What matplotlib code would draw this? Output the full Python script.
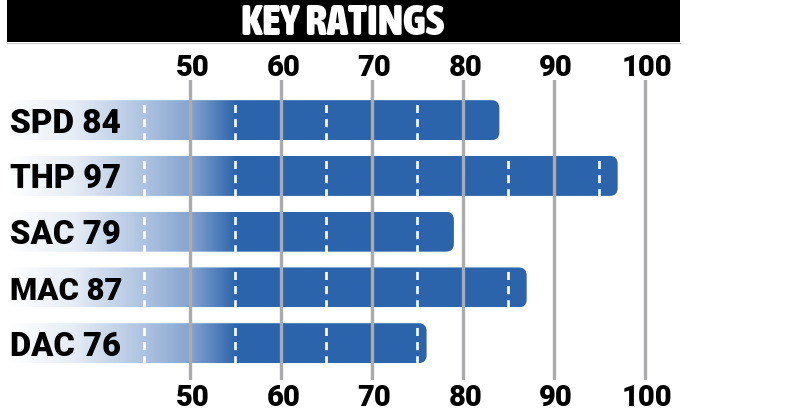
import numpy as np
import matplotlib
matplotlib.use("Agg")
import matplotlib.pyplot as plt
from matplotlib.patches import FancyBboxPatch, Rectangle
from matplotlib.lines import Line2D
from matplotlib.colors import to_rgb
from matplotlib import font_manager
import matplotlib.transforms as mtransforms

# ---- data ----
title = "KEY RATINGS"
categories = ["SPD", "THP", "SAC", "MAC", "DAC"]
ratings = [84, 97, 79, 87, 76]
tick_values = [50, 60, 70, 80, 90, 100]
dash_values = [45, 55, 65, 75, 85, 95]

plt.rcParams['lines.scale_dashes'] = False

BLUE = "#2c64ac"
GRID = "#ababad"

entries = font_manager.fontManager.ttflist
def wt(e):
    return e.weight if isinstance(e.weight, int) else 400

def pick(cands):
    for name, w in cands:
        for e in entries:
            if e.name == name and wt(e) >= w and e.style == "normal":
                return name, w
    return "Liberation Sans", 700

heavy_name, heavy_w = pick([("Roboto", 900), ("Lato", 900), ("Inter", 900),
                            ("Open Sans", 800), ("Noto Sans", 800)])
narrow = None
for e in entries:
    if ("Narrow" in e.name or "Condensed" in e.name) and e.style == "normal" and wt(e) >= 700:
        narrow = (e.name, max(700, wt(e)))
        break
title_name, title_w = narrow if narrow else (heavy_name, heavy_w)

fig = plt.figure(figsize=(7.85, 4.2), dpi=100)
W, H = 785, 420
ax = fig.add_axes([8 / W, (H - 380) / H, 672 / W, 300 / H])
XMIN, XMAX = 30.0, 103.85
ax.set_xlim(XMIN, XMAX)
ax.set_ylim(len(categories) - 1 + 0.66, -0.72)
ax.axis("off")
renderer = fig.canvas.get_renderer()

def fit(t, target_w, max_size, grow=False):
    t.set_fontsize(max_size)
    w = t.get_window_extent(renderer).width
    if w > target_w:
        t.set_fontsize(max_size * target_w / w)

def fit_exact(t, target_w, base, lo, hi):
    t.set_fontsize(base)
    w = t.get_window_extent(renderer).width
    t.set_fontsize(min(hi, max(lo, base * target_w / w)))

# title bar
fig.patches.append(Rectangle((7 / W, 1 - 42 / H), 673 / W, 42 / H,
                             transform=fig.transFigure, facecolor="black",
                             edgecolor="none", zorder=0))
fig.lines.append(Line2D([7 / W, 680 / W], [1 - 43 / H, 1 - 43 / H],
                        transform=fig.transFigure, color="#c8c8c8", lw=0.8))
tt = fig.text(342.5 / W, 1 - 35 / H, title, color="white", fontsize=28,
              fontweight=title_w, family=[title_name, "DejaVu Sans"],
              ha="center", va="baseline")
fit_exact(tt, 219, 28, 20, 31)

# gradient colour nodes (value -> colour)
node_v = [30, 37, 45, 50, 55]
node_c = np.array([to_rgb(c) for c in ["#ffffff", "#e6edf6", "#adc2e0", "#86a4cf", BLUE]])

bar_h = 0.717
px_per_x = 672 / (XMAX - XMIN)
px_per_y = 300 / (len(categories) - 1 + 0.66 + 0.72)
radius_px = 8
rx = radius_px / px_per_x
ry = radius_px / px_per_y

for i, (cat, val) in enumerate(zip(categories, ratings)):
    x0 = XMIN + 0.2
    xs = np.linspace(x0, val, 600)
    rgb = np.stack([np.interp(xs, node_v, node_c[:, k]) for k in range(3)], axis=-1)
    img = rgb[np.newaxis, :, :]
    top, bot = i - bar_h / 2, i + bar_h / 2
    patch = FancyBboxPatch((x0, top), val - x0, bar_h,
                           boxstyle=f"round,pad=0,rounding_size={rx}",
                           mutation_aspect=ry / rx, facecolor="none",
                           edgecolor="none", transform=ax.transData)
    ax.add_patch(patch)
    im = ax.imshow(img, extent=[x0, val, bot, top], aspect="auto",
                   interpolation="bilinear", zorder=1)
    im.set_clip_path(patch)
    for dv in dash_values:
        if dv < val - 0.5:
            ax.plot([dv, dv], [top, bot], color="white", lw=1.9,
                    linestyle=(7.0, (5.8, 4.4)), zorder=2,
                    dash_capstyle="butt")
    lt = ax.text(XMIN + 2 / px_per_x, i + 12.5 / px_per_y, f"{cat} {val}",
                 fontsize=24, fontweight=heavy_w, family=[heavy_name, "DejaVu Sans"],
                 color="black", ha="left", va="baseline", zorder=4)
    fit(lt, 111 if cat != "MAC" else 113, 24)

for tv in tick_values:
    ax.axvline(tv, color=GRID, lw=2.4, zorder=3)

trans = mtransforms.blended_transform_factory(ax.transData, fig.transFigure)
for tv in tick_values:
    for yb in (1 - 76 / H, 1 - 406 / H):
        t = ax.text(tv + 0.25, yb, str(tv), transform=trans, fontsize=21,
                    fontweight=heavy_w, family=[heavy_name, "DejaVu Sans"],
                    color="black", ha="center", va="baseline", clip_on=False)
        fit(t, 54 if tv == 100 else 36, 21)

fig.savefig("out.png", dpi=100, facecolor="white")
